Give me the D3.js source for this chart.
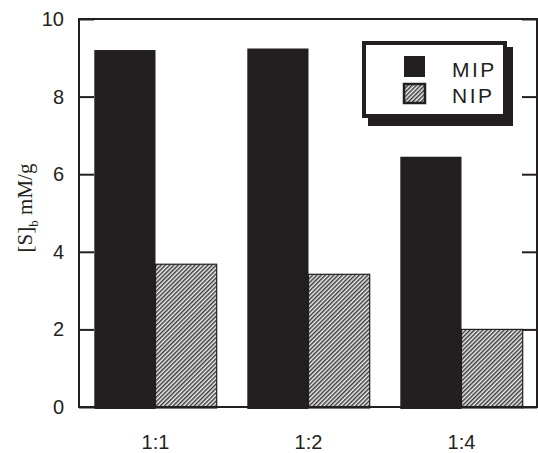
<!DOCTYPE html>
<html>
<head>
<meta charset="utf-8">
<script src="https://cdn.jsdelivr.net/npm/d3@7"></script>
<style>
  html, body { margin: 0; padding: 0; background: #fff; }
  svg { display: block; }
</style>
</head>
<body>
<svg id="chart" width="538" height="453"></svg>
<script>
// Bound substrate per polymer at each template:monomer ratio
const categories = ["1:1", "1:2", "1:4"];
const seriesNames = ["MIP", "NIP"];
const mipValues = [9.2, 9.24, 6.45];
const nipValues = [3.68, 3.42, 2.0];
const yTicks = [0, 2, 4, 6, 8, 10];

const ink = "#231f20";
const svg = d3.select("#chart");

const plotL = 79, plotR = 537, plotT = 19, plotB = 407;

const y = d3.scaleLinear().domain([0, 10]).range([plotB, plotT]);
const x0 = d3.scaleBand().domain(categories).range([plotL, plotR + 1])
  .paddingInner(0.2).paddingOuter(0.1);
const x1 = d3.scaleBand().domain(seriesNames).range([0, x0.bandwidth()]);

// diagonal hatch used for NIP
const defs = svg.append("defs");
const pat = defs.append("pattern")
  .attr("id", "hatch").attr("patternUnits", "userSpaceOnUse")
  .attr("width", 3).attr("height", 3)
  .attr("patternTransform", "rotate(45)");
pat.append("rect").attr("width", 3).attr("height", 3).attr("fill", "#f2f2f2");
pat.append("line").attr("x1", 0.75).attr("y1", 0).attr("x2", 0.75).attr("y2", 3)
  .attr("stroke", "#3a3a3a").attr("stroke-width", 1.5);

const rows = categories.map((c, i) => ({ cat: c, MIP: mipValues[i], NIP: nipValues[i] }));

// bars
const groups = svg.append("g").selectAll("g").data(rows).join("g")
  .attr("transform", d => `translate(${x0(d.cat)},0)`);

groups.append("rect")
  .attr("x", x1("MIP")).attr("width", x1.bandwidth())
  .attr("y", d => y(d.MIP)).attr("height", d => y(0) - y(d.MIP) + 2)
  .attr("fill", ink);

groups.append("rect")
  .attr("x", x1("NIP")).attr("width", x1.bandwidth())
  .attr("y", d => y(d.NIP)).attr("height", d => y(0) - y(d.NIP) + 1)
  .attr("fill", "url(#hatch)")
  .attr("stroke", ink).attr("stroke-width", 1.2);

// frame
const frame = svg.append("g").attr("stroke", ink).attr("stroke-width", 2).attr("fill", "none");
frame.append("rect").attr("x", plotL).attr("y", plotT)
  .attr("width", plotR - plotL).attr("height", plotB - plotT);

// left axis, inward ticks
const yAxisL = d3.axisRight(y).tickValues(yTicks).tickSize(15).tickFormat("");
const gl = svg.append("g").attr("transform", `translate(${plotL},0)`).call(yAxisL);
gl.select(".domain").remove();
gl.selectAll(".tick line").attr("stroke", ink).attr("stroke-width", 2);

// right axis, inward ticks
const yAxisR = d3.axisLeft(y).tickValues(yTicks).tickSize(15).tickFormat("");
const gr = svg.append("g").attr("transform", `translate(${plotR},0)`).call(yAxisR);
gr.select(".domain").remove();
gr.selectAll(".tick line").attr("stroke", ink).attr("stroke-width", 2);

// tick labels
svg.append("g").selectAll("text").data(yTicks).join("text")
  .attr("x", 64).attr("y", d => y(d) + 7)
  .attr("text-anchor", "end")
  .attr("font-family", "Liberation Sans, Arial, sans-serif")
  .attr("font-size", 20).attr("fill", ink)
  .text(d => d);

svg.append("g").selectAll("text").data(categories).join("text")
  .attr("x", d => x0(d) + x0.bandwidth() / 2).attr("y", 449)
  .attr("text-anchor", "middle")
  .attr("font-family", "Liberation Sans, Arial, sans-serif")
  .attr("font-size", 20).attr("fill", ink)
  .text(d => d);

// y title
const yt = svg.append("text")
  .attr("transform", "translate(32,208) rotate(-90)")
  .attr("text-anchor", "middle")
  .attr("font-family", "Liberation Serif, Times New Roman, serif")
  .attr("font-size", 21).attr("fill", ink);
yt.append("tspan").text("[S]");
yt.append("tspan").attr("font-size", 13).attr("dy", 6).text("b");
yt.append("tspan").attr("dy", -6).text(" mM/g");

// legend
const lg = svg.append("g");
lg.append("rect").attr("x", 368).attr("y", 47).attr("width", 145).attr("height", 79).attr("fill", ink);
lg.append("rect").attr("x", 364).attr("y", 43).attr("width", 141).attr("height", 73)
  .attr("fill", "#fff").attr("stroke", ink).attr("stroke-width", 4);

const items = [
  { name: seriesNames[0], fill: ink, yTop: 56, h: 21 },
  { name: seriesNames[1], fill: "url(#hatch)", yTop: 84, h: 19 }
];
items.forEach(it => {
  lg.append("rect").attr("x", 404).attr("y", it.yTop).attr("width", 21).attr("height", it.h)
    .attr("fill", it.fill).attr("stroke", ink).attr("stroke-width", it.fill === ink ? 0 : 2.5);
  lg.append("text").attr("x", 452).attr("y", it.yTop + it.h)
    .attr("font-family", "Liberation Sans, Arial, sans-serif")
    .attr("font-size", 21).attr("letter-spacing", 2.5).attr("fill", ink)
    .text(it.name);
});
</script>
</body>
</html>
